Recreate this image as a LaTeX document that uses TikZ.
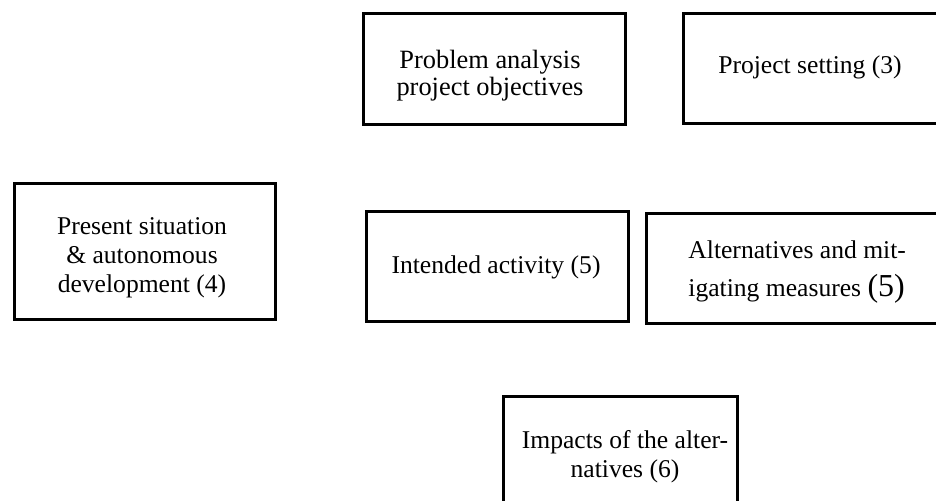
\documentclass[tikz,border=0pt]{standalone}
\usepackage{fontspec}
\setmainfont{Liberation Serif}
\begin{document}
\begin{tikzpicture}[x=0.5pt,y=-0.5pt,
  box/.style={draw=black, line width=1.5pt, rectangle, inner sep=0pt, anchor=north west},
  lbl/.style={font=\fontsize{12.8}{14.5}\selectfont, align=center, inner sep=0pt}]
\useasboundingbox (0,0) rectangle (936,500);
\clip (0,0) rectangle (936,500);
% boxes
\node[box, minimum width=131pt, minimum height=55.5pt] (b1) at (362,12) {};
\node[box, minimum width=128pt, minimum height=55pt] (b2) at (682,12) {};
\node[box, minimum width=130.5pt, minimum height=68pt] (b3) at (13,182) {};
\node[box, minimum width=131pt, minimum height=55pt] (b4) at (365,210) {};
\node[box, minimum width=150pt, minimum height=55pt] (b5) at (645,212) {};
\node[box, minimum width=117pt, minimum height=55pt] (b6) at (502,395) {};
% texts
\node[lbl, font=\fontsize{13.2}{13.5}\selectfont] (t1) at (490,75.5) {Problem analysis\\project objectives};
\node[lbl] (t2) at (810,67) {Project setting (3)};
\node[lbl] (t3) at (142,258) {Present situation\\\& autonomous\\development (4)};
\node[lbl] (t4) at (496,267) {Intended activity (5)};
\node[lbl, align=left, anchor=west] (t5) at (688,272) {Alternatives and mit-\\[4.5pt]igating measures {\fontsize{16}{19}\selectfont(5)}};
\node[lbl] (t6) at (625,456.5) {Impacts of the alter-\\natives (6)};
\end{tikzpicture}
\end{document}
